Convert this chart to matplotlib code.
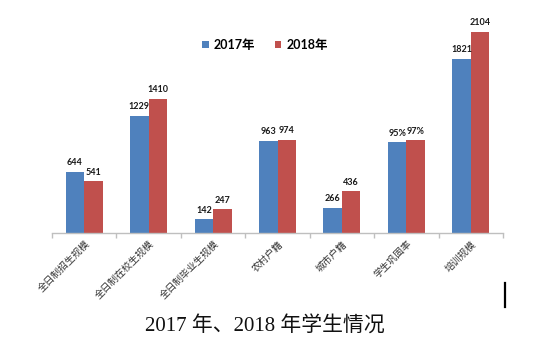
import matplotlib

matplotlib.use("Agg")
import matplotlib.pyplot as plt
import numpy as np
from matplotlib.lines import Line2D

categories = [
    "全日制招生规模",
    "全日制在校生规模",
    "全日制毕业生规模",
    "农村户籍",
    "城市户籍",
    "学生巩固率",
    "培训规模",
]
values_2017 = [644, 1229, 142, 963, 266, 950, 1821]
values_2018 = [541, 1410, 247, 974, 436, 970, 2104]
labels_2017 = ["644", "1229", "142", "963", "266", "95%", "1821"]
labels_2018 = ["541", "1410", "247", "974", "436", "97%", "2104"]
series_names = ["2017年", "2018年"]

BLUE = "#4F81BD"
RED = "#C0504D"
W, H = 535, 347

plt.rcParams["font.family"] = ["Lato", "Noto Sans CJK SC", "DejaVu Sans"]

fig = plt.figure(figsize=(W / 100, H / 100), dpi=100)
fig.patch.set_facecolor("white")

# axes box in pixel terms: x 52..503, baseline at y=233, top at y=22
ax = fig.add_axes([52 / W, (H - 233) / H, (503 - 52) / W, (233 - 22) / H])
x = np.arange(len(categories))
width = 0.287

bars_a = ax.bar(x - width / 2, values_2017, width, color=BLUE, label=series_names[0])
bars_b = ax.bar(x + width / 2, values_2018, width, color=RED, label=series_names[1])

for bars, texts in ((bars_a, labels_2017), (bars_b, labels_2018)):
    for rect, txt in zip(bars, texts):
        ax.annotate(
            txt,
            (rect.get_x() + rect.get_width() / 2, rect.get_height()),
            xytext=(0, 3.5),
            textcoords="offset points",
            ha="center",
            va="bottom",
            fontsize=6.5,
            fontweight="bold",
            color="#1a1a1a",
        )

ax.set_xlim(-0.5, len(categories) - 0.5)
ax.set_ylim(0, 2212)
for side in ("top", "right", "left"):
    ax.spines[side].set_visible(False)
ax.spines["bottom"].set_color("#BFBFBF")
ax.spines["bottom"].set_linewidth(1.0)
ax.set_yticks([])

# boundary ticks between categories, labels at group centres
ax.set_xticks(np.arange(len(categories) + 1) - 0.5)
ax.set_xticklabels([])
ax.tick_params(axis="x", which="major", length=3.5, color="#BFBFBF", width=1.0)
ax.set_xticks(x, minor=True)
ax.set_xticklabels(categories, minor=True, rotation=45, ha="right",
                   rotation_mode="anchor", fontsize=7, color="#333333",
                   family=["Noto Sans CJK SC"])
ax.tick_params(axis="x", which="minor", length=0, pad=4)

fig.legend(
    handles=[bars_a, bars_b],
    labels=series_names,
    loc="center",
    bbox_to_anchor=(265 / W, 1 - 45 / H),
    ncol=2,
    frameon=False,
    handlelength=0.5,
    handleheight=0.5,
    handletextpad=0.4,
    columnspacing=1.6,
    prop={"size": 9, "weight": "bold"},
)

fig.text(
    265 / W,
    1 - 327 / H,
    "2017 年、2018 年学生情况",
    ha="center",
    va="center",
    fontsize=15,
    family=["Liberation Serif", "Noto Sans CJK SC"],
    color="#111111",
)

# text cursor mark to the lower right
fig.add_artist(Line2D([505 / W, 505 / W], [1 - 283 / H, 1 - 307 / H],
                      color="black", linewidth=1.6))

fig.savefig("out.png", dpi=100)
